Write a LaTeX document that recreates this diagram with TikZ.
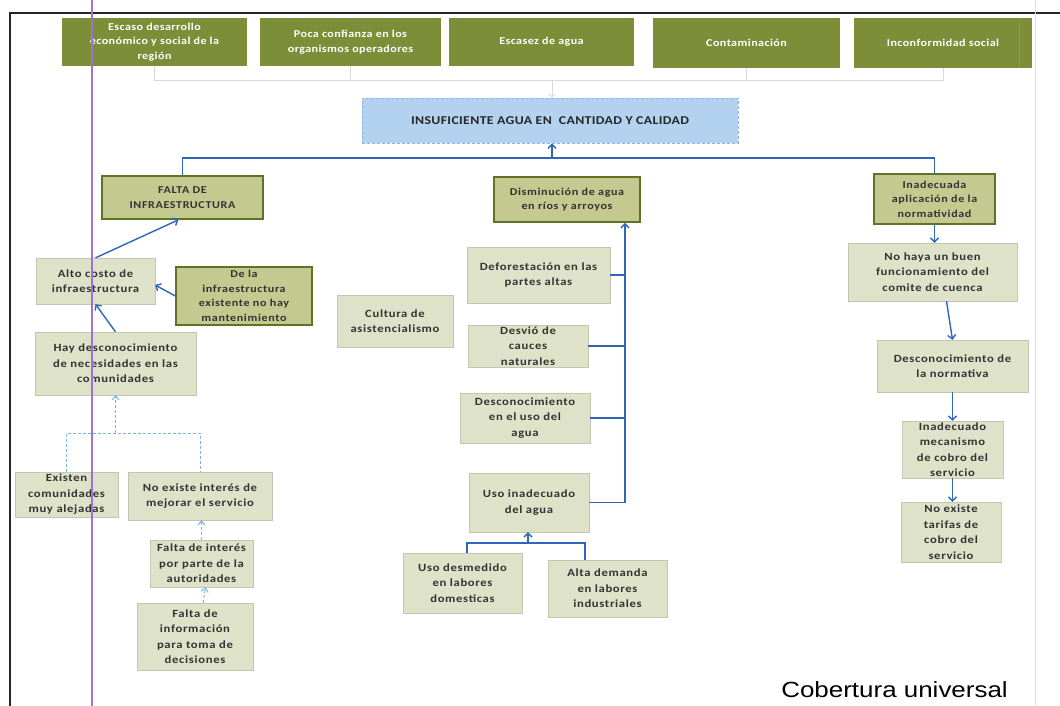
\documentclass[tikz,border=0pt]{standalone}
\usepackage{fontspec}
\setmainfont{Carlito}
\newfontfamily\cellfont{Carlito}[FakeStretch=1.15, LetterSpace=6]
\newfontfamily\headfont{Carlito}[FakeStretch=1.15, LetterSpace=4]
\newfontfamily\probfont{Carlito}[FakeStretch=1.15, LetterSpace=3]
\newfontfamily\arialf{Liberation Sans}
\usetikzlibrary{arrows.meta}

\definecolor{topgreen}{HTML}{7C8E38}
\definecolor{keyfill}{HTML}{C3C98F}
\definecolor{keyedge}{HTML}{5E7424}
\definecolor{causefill}{HTML}{DEE2C9}
\definecolor{mainfill}{HTML}{B3D2EF}
\definecolor{mainedge}{HTML}{8DB6E0}
\definecolor{linkblue}{HTML}{2F66BC}
\definecolor{linkpale}{HTML}{7EB0E6}
\definecolor{inktext}{HTML}{333333}

\tikzset{
  sz/.style 2 args={minimum width=#1pt, minimum height=#2pt},
  topbox/.style={fill=topgreen, text=white, align=center, inner sep=0pt,
    font=\headfont\bfseries\fontsize{10.5}{14.5}\selectfont},
  mainbox/.style={fill=mainfill, draw=mainedge, densely dashed, line width=0.8pt,
    align=center, inner sep=0pt, text=black!85,
    font=\probfont\bfseries\fontsize{12}{14}\selectfont},
  keybox/.style={fill=keyfill, draw=keyedge, line width=1.6pt, align=center,
    inner sep=0pt, text=inktext, font=\cellfont\bfseries\fontsize{10.5}{14.5}\selectfont},
  causebox/.style={fill=causefill, draw=causefill!88!black, line width=0.3pt,
    align=center, inner sep=0pt, text=inktext, font=\cellfont\bfseries\fontsize{11}{15.5}\selectfont},
  link/.style={draw=linkblue, line width=1.4pt},
  linkarrow/.style={link, -{Straight Barb[length=4pt,width=8pt]}},
  palelink/.style={draw=linkpale, line width=1pt, densely dashed},
  palearrow/.style={palelink, -{Straight Barb[length=4pt,width=7pt]}},
  faint/.style={draw=black!15, line width=0.8pt},
}

\begin{document}
\begin{tikzpicture}[x=1pt, y=-1pt]
\useasboundingbox (0,0) rectangle (1060,706);
\fill[white] (0,0) rectangle (1060,706);

% page frame and margin guides
\draw[black!85, line width=1.6pt] (1060,13) -- (10,13) -- (10,706);
\draw[black!12, line width=1pt] (1035,0) -- (1035,706);

% effects row
\node[topbox, sz={185}{48}] (t1) at (154.5,42) {Escaso desarrollo\\económico y social de la\\región};
\node[topbox, sz={181}{48}] (t2) at (350.5,42) {Poca confianza en los\\organismos operadores};
\node[topbox, sz={185}{48}] (t3) at (541.5,42) {Escasez de agua};
\node[topbox, sz={187}{50}] (t4) at (746.5,43) {Contaminación};
\node[topbox, sz={178}{50}] (t5) at (943,43) {Inconformidad social};

% central problem
\node[mainbox, sz={376}{45}] (main) at (550,120.5) {INSUFICIENTE AGUA EN\ \ CANTIDAD Y CALIDAD};

% faint links from the central problem to the effects
\coordinate (ebus) at (552,80);
\draw[faint] (t1.south) -- (t1.south |- ebus) -- (t5.south |- ebus) -- (t5.south);
\draw[faint] (t2.south) -- (t2.south |- ebus);
\draw[faint] (t4.south) -- (t4.south |- ebus);
\draw[faint, -{Straight Barb[length=3pt,width=6pt]}] (ebus) -- (ebus |- main.north);

% main causes
\node[keybox, sz={161}{43}] (falta) at (182.5,197.5) {FALTA DE\\INFRAESTRUCTURA};
\node[keybox, sz={146}{45}] (dism) at (567,199.5) {Disminución de agua\\en ríos y arroyos};
\node[keybox, sz={121}{50}] (inad) at (934.5,199) {Inadecuada\\aplicación de la\\normatividad};

\coordinate (cbus) at (552,158);
\draw[link] (falta.north) -- (falta.north |- cbus) -- (inad.north |- cbus) -- (inad.north);
\draw[linkarrow] (cbus) -- (cbus |- main.south);

% infrastructure branch
\node[causebox, sz={119}{46}] (alto) at (95.5,281) {Alto costo de\\infraestructura};
\node[keybox, sz={136}{58}, line width=1.3pt] (dela) at (244,296) {De la\\infraestructura\\existente no hay\\mantenimiento};
\node[causebox, sz={161}{63}] (hay) at (115.5,363.5) {Hay desconocimiento\\de necesidades en las\\comunidades};
\node[causebox, sz={103}{45}] (exist) at (66.5,494.5) {Existen\\comunidades\\muy alejadas};
\node[causebox, sz={144}{48}] (noint) at (200,496) {No existe interés de\\mejorar el servicio};
\node[causebox, sz={103}{47}] (faltaint) at (201.5,563.5) {Falta de interés\\por parte de la\\autoridades};
\node[causebox, sz={116}{67}] (faltainfo) at (195,636.5) {Falta de\\información\\para toma de\\decisiones};

\draw[linkarrow] (alto.north) -- ([xshift=-4pt]falta.south);
\draw[linkarrow] (dela.west) -- ([yshift=-4pt]alto.east);
\draw[linkarrow] (hay.north) -- (alto.south);

\coordinate (hbus) at (115.5,433);
\draw[palelink] (exist.north) -- (exist.north |- hbus) -- (noint.north |- hbus) -- (noint.north);
\draw[palearrow] (hbus) -- (hay.south);
\draw[palearrow] (faltaint.north) -- (faltaint.north |- noint.south);
\draw[palearrow] ([xshift=8pt]faltainfo.north) -- ([xshift=4pt]faltaint.south);

% water reduction branch
\node[causebox, sz={116}{52}] (cult) at (395,321) {Cultura de\\asistencialismo};
\node[causebox, sz={143}{56}] (defor) at (538.5,275) {Deforestación en las\\partes altas};
\node[causebox, sz={120}{42}] (desvio) at (528,346) {Desvió de\\cauces\\naturales};
\node[causebox, sz={130}{50}] (descon) at (525,418) {Desconocimiento\\en el uso del\\agua};
\node[causebox, sz={120}{59}] (usoin) at (529,502.5) {Uso inadecuado\\del agua};
\node[causebox, sz={119}{60}] (desmed) at (462.5,583) {Uso desmedido\\en labores\\domesticas};
\node[causebox, sz={119}{57}] (alta) at (607.5,588.5) {Alta demanda\\en labores\\industriales};

\coordinate (spine) at (625,0);
\draw[linkarrow] (usoin.east) -| (spine |- dism.south);
\draw[link] (defor.east) -- (defor.east -| spine);
\draw[link] (desvio.east) -- (desvio.east -| spine);
\draw[link] (descon.east) -- (descon.east -| spine);

\coordinate (ubus) at (528,543);
\coordinate (ul) at (467,543);
\coordinate (ur) at (585,543);
\draw[link] (ul |- desmed.north) -- (ul) -- (ur) -- (ur |- alta.north);
\draw[linkarrow] (ubus) -- (ubus |- usoin.south);

% regulation branch
\node[causebox, sz={169}{58}] (nohaya) at (932.5,272) {No haya un buen\\funcionamiento del\\comite de cuenca};
\node[causebox, sz={151}{52}] (desnorm) at (952.5,366) {Desconocimiento de\\la normativa};
\node[causebox, sz={101}{57}] (inadmec) at (952.5,449.5) {Inadecuado\\mecanismo\\de cobro del\\servicio};
\node[causebox, sz={100}{60}] (notar) at (951,532) {No existe\\tarifas de\\cobro del\\servicio};

\draw[linkarrow] (inad.south) -- (inad.south |- nohaya.north);
\draw[linkarrow] ([xshift=14pt]nohaya.south) -- (desnorm.north);
\draw[linkarrow] (desnorm.south) -- (inadmec.north);
\draw[linkarrow] (inadmec.south) -- (inadmec.south |- notar.north);

% guide lines drawn over the sheet
\draw[red!55!orange!80, line width=1pt] (1019,18) -- (1019,68);
\draw[violet!55!blue!55, line width=1.1pt] (92,0) -- (92,706);

% caption
\node[anchor=base east, inner sep=0pt, font=\arialf\fontsize{22}{26}\selectfont] (cap) at (1008,697)
  {\scalebox{1.18}[1]{Cobertura universal}};
\end{tikzpicture}
\end{document}
